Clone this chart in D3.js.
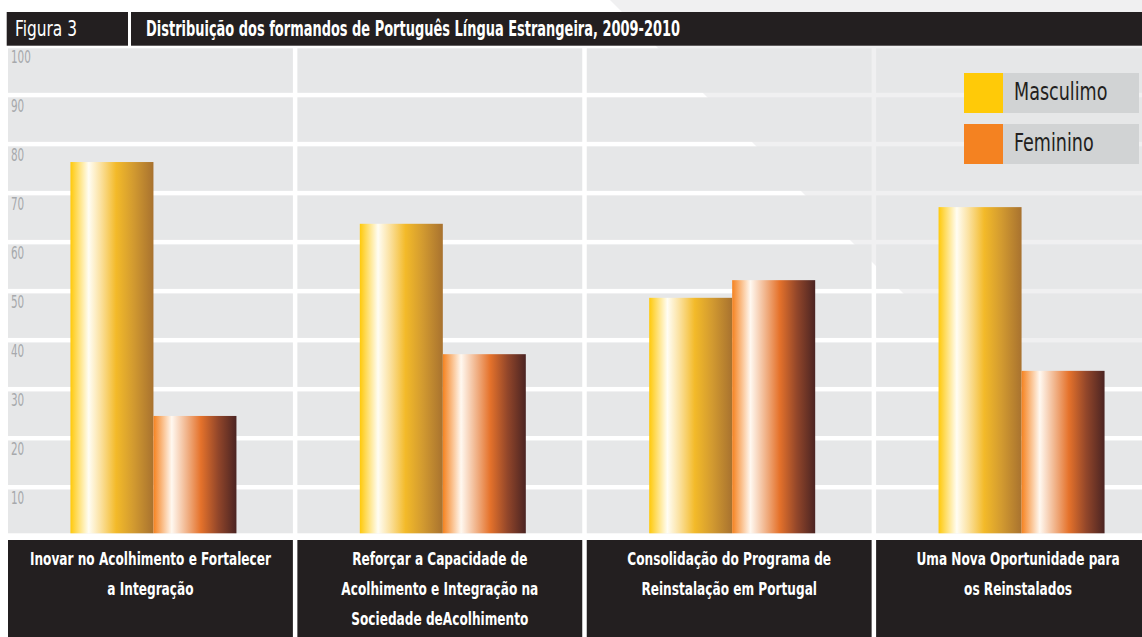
<!DOCTYPE html>
<html>
<head>
<meta charset="utf-8">
<script src="https://cdn.jsdelivr.net/npm/d3@7"></script>
<style>
  body { margin: 0; background: #fff; }
  svg text { font-family: "DejaVu Sans Condensed", "DejaVu Sans", sans-serif; }
</style>
</head>
<body>
<script>
// data
const categories = [
  ["Inovar no Acolhimento e Fortalecer", "a Integração"],
  ["Reforçar a Capacidade de", "Acolhimento e Integração na", "Sociedade deAcolhimento"],
  ["Consolidação do Programa de", "Reinstalação em Portugal"],
  ["Uma Nova Oportunidade para", "os Reinstalados"]
];
const seriesNames = ["Masculimo", "Feminino"];
const masculino = [76.8, 64.2, 49.1, 67.6];
const feminino = [25.0, 37.6, 52.7, 34.2];
const yTicks = [10, 20, 30, 40, 50, 60, 70, 80, 90, 100];

const width = 1142, height = 637;
const floorY = 533.3;

const svg = d3.select("body").append("svg")
  .attr("width", width)
  .attr("height", height);

// the original typeface is much narrower, so squeeze the glyphs
function squeeze(sel, k) {
  sel.each(function() {
    const w = this.getComputedTextLength();
    d3.select(this).attr("textLength", w * k).attr("lengthAdjust", "spacingAndGlyphs");
  });
}

// gradients for the bars
const defs = svg.append("defs");
function gradient(id, stops) {
  const g = defs.append("linearGradient").attr("id", id)
    .attr("x1", "0%").attr("x2", "100%").attr("y1", "0%").attr("y2", "0%");
  stops.forEach(s => g.append("stop").attr("offset", s[0]).attr("stop-color", s[1]));
}
gradient("gradM", [[0, "#ffc90a"], [0.22, "#fffdf3"], [0.36, "#fbe2a2"], [0.55, "#f3ba29"], [0.76, "#d29a30"], [1, "#a8722f"]]);
gradient("gradF", [[0, "#f5821f"], [0.22, "#fff8f0"], [0.4, "#f1b48b"], [0.57, "#e5722b"], [0.78, "#92462a"], [1, "#4b2422"]]);

// faint background shape
svg.append("polygon")
  .attr("points", "635,0 1142,0 1142,358 965,355 610,0")
  .attr("fill", "#f0f0f1");

const x0 = d3.scaleBand()
  .domain(d3.range(categories.length))
  .range([8, 1161])
  .paddingInner(0.0155);

const y = d3.scaleLinear()
  .domain([0, 100])
  .range([538.5, 48.3]);

const x1 = d3.scaleBand()
  .domain(seriesNames)
  .range([0, 166]);

// visible width of a column (the last one runs off the page)
const colW = c => Math.min(x0(c) + x0.bandwidth(), width) - x0(c);

// gray grid cells
const cells = [];
x0.domain().forEach(c => yTicks.forEach(t => cells.push({c: c, t: t})));
svg.append("g").selectAll("rect")
  .data(cells)
  .join("rect")
  .attr("x", d => x0(d.c))
  .attr("width", d => colW(d.c))
  .attr("y", d => y(d.t))
  .attr("height", d => Math.min(y(d.t - 10) - 4.5, floorY) - y(d.t))
  .attr("fill", "#e6e7e8");

// y tick labels
svg.append("g").selectAll("text")
  .data(yTicks)
  .join("text")
  .attr("x", 11)
  .attr("y", d => y(d) + 15)
  .attr("fill", "#a7a9ac")
  .attr("font-size", "17px")
  .text(d => d)
  .call(squeeze, 0.68);

// bars
const groups = svg.append("g").selectAll("g")
  .data(x0.domain())
  .join("g")
  .attr("transform", d => `translate(${x0(d) + (x0.bandwidth() - 166) / 2 + 3},0)`);

groups.selectAll("rect")
  .data(i => [
    {s: seriesNames[0], v: masculino[i], f: "url(#gradM)"},
    {s: seriesNames[1], v: feminino[i], f: "url(#gradF)"}
  ])
  .join("rect")
  .attr("x", d => x1(d.s))
  .attr("width", x1.bandwidth())
  .attr("y", d => y(d.v))
  .attr("height", d => floorY - y(d.v))
  .attr("fill", d => d.f);

// category label boxes
const labels = svg.append("g").selectAll("g")
  .data(x0.domain())
  .join("g");

labels.append("rect")
  .attr("x", d => x0(d))
  .attr("width", d => colW(d))
  .attr("y", 540)
  .attr("height", height - 540)
  .attr("fill", "#231f20");

labels.each(function(d) {
  const cx = x0(d) + Math.min(x0.bandwidth(), colW(d) + 18) / 2;
  d3.select(this).selectAll("text")
    .data(categories[d])
    .join("text")
    .attr("transform", (t, i) => `translate(${cx},${565 + i * 30}) scale(0.75,1)`)
    .attr("text-anchor", "middle")
    .attr("fill", "#fff")
    .attr("font-weight", "bold")
    .attr("font-size", "18px")
    .text(t => t);
});

// header
svg.append("rect")
  .attr("x", 6.7).attr("y", 12)
  .attr("width", 121.3).attr("height", 33.7)
  .attr("fill", "#231f20");
svg.append("rect")
  .attr("x", 131).attr("y", 12)
  .attr("width", width - 131).attr("height", 33.7)
  .attr("fill", "#231f20");
svg.append("text")
  .attr("x", 15).attr("y", 35.5)
  .attr("fill", "#fff")
  .attr("font-size", "21px")
  .attr("textLength", 62)
  .attr("lengthAdjust", "spacingAndGlyphs")
  .text("Figura 3");
svg.append("text")
  .attr("x", 146).attr("y", 35.5)
  .attr("fill", "#fff")
  .attr("font-weight", "bold")
  .attr("font-size", "21px")
  .attr("textLength", 534)
  .attr("lengthAdjust", "spacingAndGlyphs")
  .text("Distribuição dos formandos de Português Língua Estrangeira, 2009-2010");

// legend
const legend = svg.append("g").selectAll("g")
  .data(seriesNames)
  .join("g")
  .attr("transform", (d, i) => `translate(964,${73 + i * 51})`);
legend.append("rect")
  .attr("width", 175).attr("height", 40)
  .attr("fill", "#d1d3d4");
legend.append("rect")
  .attr("width", 39).attr("height", 40)
  .attr("fill", (d, i) => ["#ffca08", "#f48221"][i]);
legend.append("text")
  .attr("x", 50).attr("y", 27)
  .attr("fill", "#231f20")
  .attr("font-size", "25px")
  .text(d => d)
  .call(squeeze, 0.78);
</script>
</body>
</html>
